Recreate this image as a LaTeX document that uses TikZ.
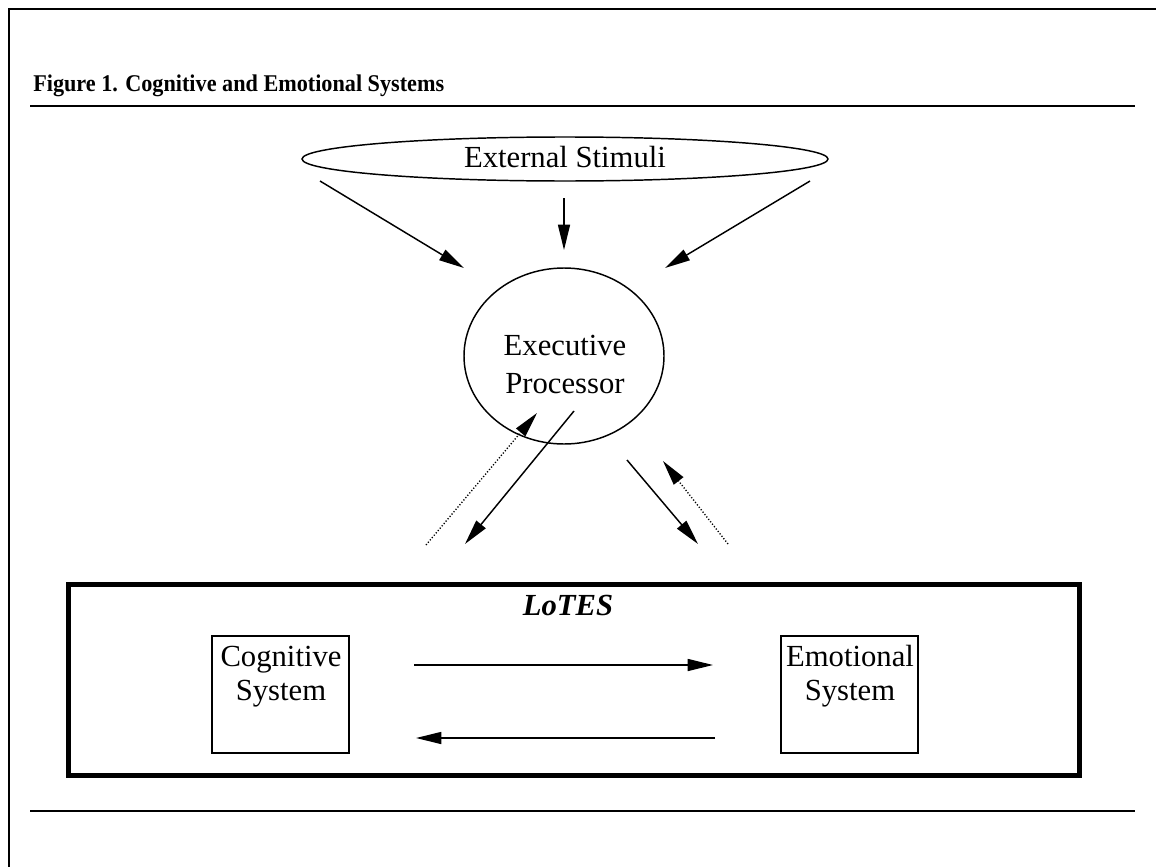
\documentclass[tikz,border=0pt]{standalone}
\usepackage{fontspec}
\setmainfont{Liberation Serif}
\usetikzlibrary{shapes.geometric,arrows.meta}
\begin{document}
\begin{tikzpicture}[x=0.75pt,y=-0.75pt,
  txt/.style={font=\fontsize{23}{27}\selectfont, inner sep=0pt, anchor=base},
  rule/.style={line width=1.5pt},
  shapeline/.style={draw, line width=1.1pt, inner sep=0pt},
  arr/.style={line width=1.1pt, -{Triangle[length=19pt,width=9pt]}},
  dotarr/.style={line width=1pt, dash pattern=on 0.9pt off 1.4pt, -{Triangle[length=19pt,width=9pt]}}]
\useasboundingbox (0,0) rectangle (1156,867);
% frame
\coordinate (fb) at (9,867);
\coordinate (fc) at (9,9);
\coordinate (fr) at (1156,9);
\draw[rule] (fb) -- (fc) -- (fr);
% title and rules
\node[anchor=base west, inner sep=0pt, font=\bfseries\fontsize{18}{22}\selectfont] (title) at (33,92) {\scalebox{0.925}[1]{Figure 1. Cognitive and Emotional Systems}};
\coordinate (r1a) at (30,106);
\coordinate (r1b) at (1135,106);
\coordinate (r2a) at (30,811);
\coordinate (r2b) at (1135,811);
\draw[rule] (r1a) -- (r1b);
\draw[rule] (r2a) -- (r2b);
% external stimuli
\node[shapeline, ellipse, minimum width=394.5pt, minimum height=33pt] (ext) at (565,159) {};
\node[txt] (extt) at (565,167) {External Stimuli};
% executive processor
\node[shapeline, ellipse, minimum width=150pt, minimum height=132pt] (exec) at (564,356) {};
\node[txt] (exec1) at (565,355) {Executive};
\node[txt] (exec2) at (565,393) {Processor};
% arrows from stimuli
\coordinate (s1) at (320,181);
\coordinate (t1) at (464,268);
\coordinate (s2) at (564,198);
\coordinate (t2) at (564,250);
\coordinate (s3) at (810,181);
\coordinate (t3) at (665,268);
\draw[arr] (s1) -- (t1);
\draw[arr] (s2) -- (t2);
\draw[arr] (s3) -- (t3);
% arrows between processor and LoTES
\coordinate (d1s) at (426,545);
\coordinate (d1t) at (537,413);
\coordinate (l1s) at (574,411);
\coordinate (l1t) at (465,544);
\coordinate (l2s) at (627,460);
\coordinate (l2t) at (698,544);
\coordinate (d2s) at (728,544);
\coordinate (d2t) at (663,461);
\draw[dotarr] (d1s) -- (d1t);
\draw[arr] (l1s) -- (l1t);
\draw[arr] (l2s) -- (l2t);
\draw[dotarr] (d2s) -- (d2t);
% LoTES box
\node[draw, line width=3.75pt, inner sep=0pt, minimum width=758.25pt, minimum height=143.25pt] (lotes) at (573.5,679.5) {};
\node[txt, font=\bfseries\itshape\fontsize{23}{27}\selectfont] (lotest) at (568,615) {LoTES};
% systems
\node[shapeline, minimum width=102.75pt, minimum height=87.75pt] (cog) at (280.5,694.5) {};
\node[txt] (cog1) at (281,666) {Cognitive};
\node[txt] (cog2) at (281,700) {System};
\node[shapeline, minimum width=102.75pt, minimum height=87.75pt] (emo) at (849.5,694.5) {};
\node[txt] (emo1) at (850,666) {Emotional};
\node[txt] (emo2) at (850,700) {System};
\coordinate (h1s) at (414,665);
\coordinate (h1t) at (713,665);
\coordinate (h2s) at (715,738);
\coordinate (h2t) at (416,738);
\draw[arr] (h1s) -- (h1t);
\draw[arr] (h2s) -- (h2t);
\end{tikzpicture}
\end{document}
